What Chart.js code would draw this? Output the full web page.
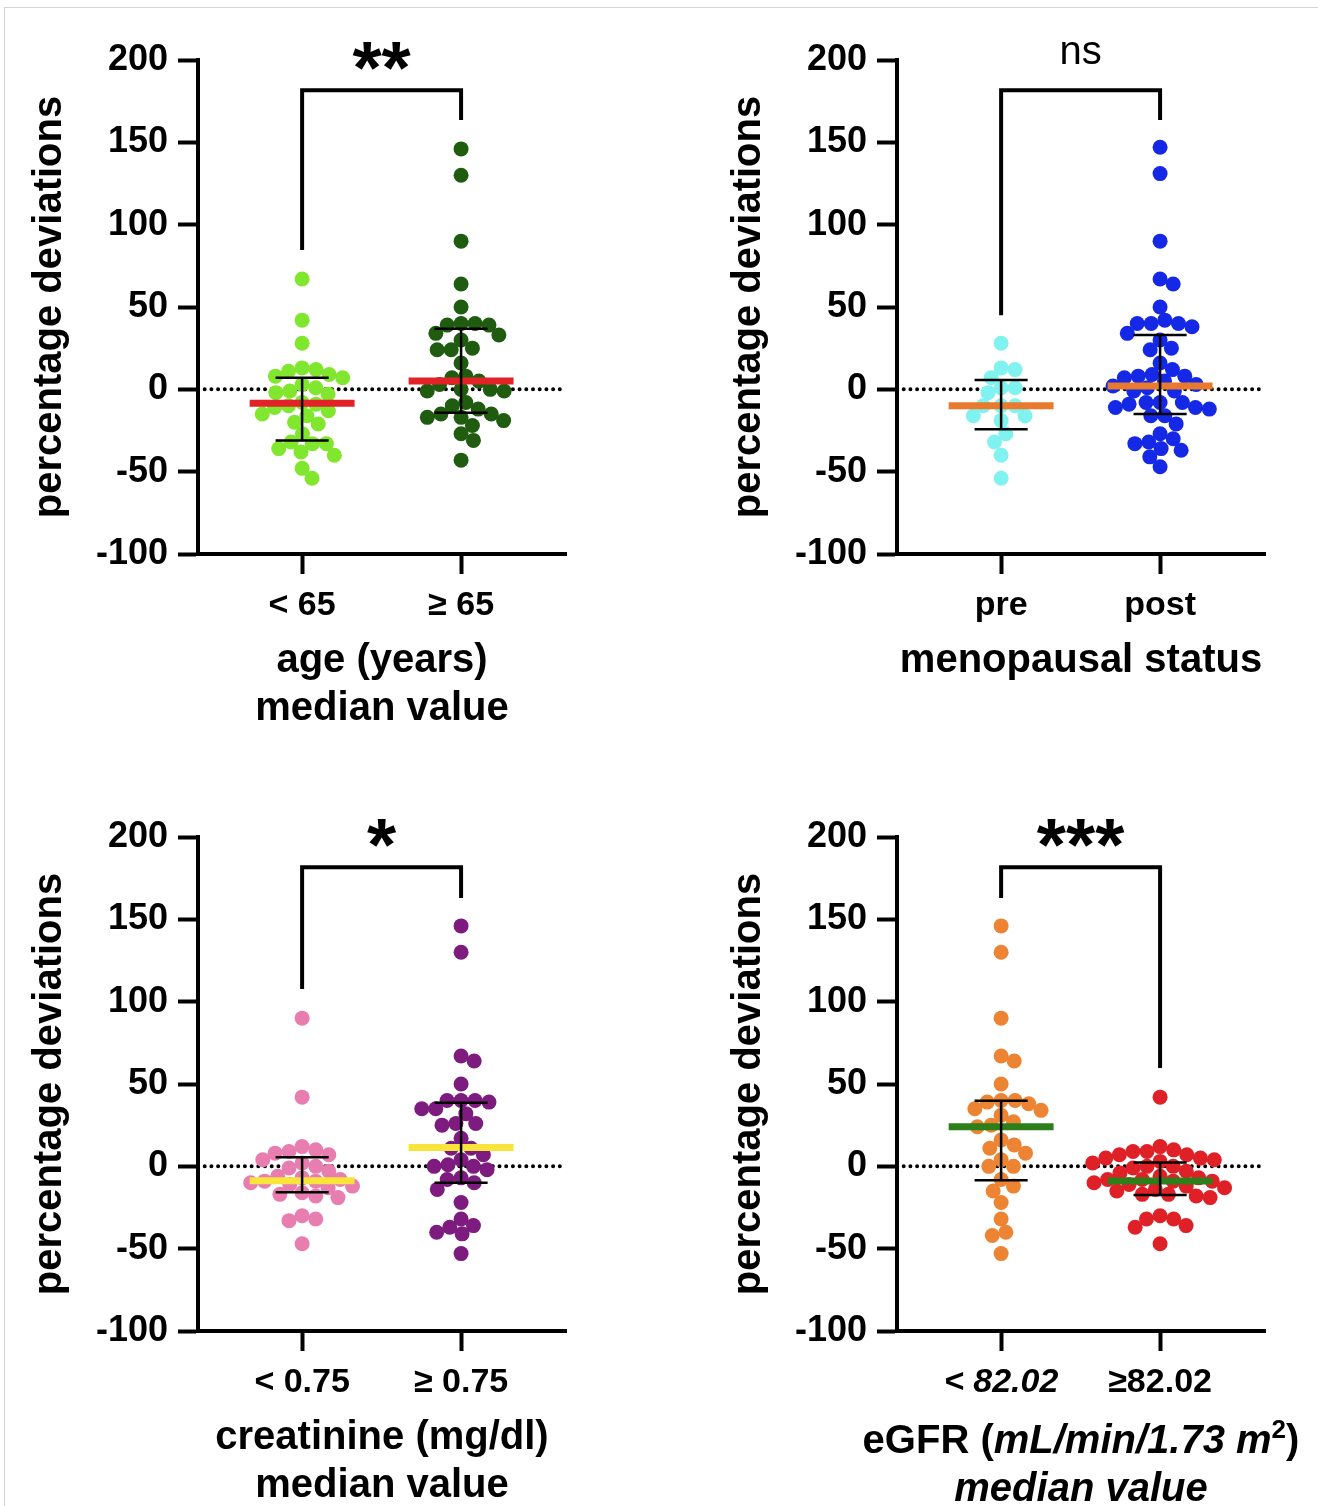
<!DOCTYPE html>
<html>
<head>
<meta charset="utf-8">
<title>percentage deviations</title>
<script src="https://cdn.jsdelivr.net/npm/chart.js@4.4.1/dist/chart.umd.min.js"></script>
<style>
  html, body { margin: 0; padding: 0; background: #fff; }
  body { width: 1318px; height: 1506px; position: relative; overflow: hidden; }
  #frame { position: absolute; left: 4px; top: 7px; right: 0; bottom: 0;
           border-top: 1px solid #d4d4d4; border-left: 1px solid #d4d4d4; }
  canvas { position: absolute; width: 619px; height: 783px; }
</style>
</head>
<body>
<div id="frame"></div>
<canvas id="age" width="619" height="783" style="left:0;top:0"></canvas>
<canvas id="meno" width="619" height="783" style="left:699px;top:0"></canvas>
<canvas id="creat" width="619" height="783" style="left:0;top:777px"></canvas>
<canvas id="egfr" width="619" height="783" style="left:699px;top:777px"></canvas>
<script>
// ---- data (percentage deviations) ----
const ageLabels = ['< 65', '\u2265 65'];
const ageUnder65 = [67, 42, 28, 13, 12, 11, 9, 8, 7, 3, 1, -1, -2, -3, -8, -9, -10, -11, -13, -15, -16, -20, -21, -27, -32, -33, -33, -36, -38, -40, -48, -54];
const ageOver65 = [146, 130, 90, 64, 50, 40, 40, 39, 39, 34, 33, 30, 25, 24, 24, 16, 8, 7, 5, 3, 0, 0, -1, -1, -8, -10, -12, -15, -15, -17, -17, -19, -22, -27, -31, -43];
const ageMedian = [-8.5, 5];
const ageQ1 = [-31, -14.2];
const ageQ3 = [7, 36.8];

const menoLabels = ['pre', 'post'];
const menoPre = [28, 13, 12, 7, 1, 1, -2, -10, -10, -10, -16, -16, -19, -27, -32, -40, -54];
const menoPost = [147, 131, 90, 67, 64, 50, 42, 40, 40, 40, 38, 34, 30, 25, 24, 16, 12, 9, 8, 8, 7, 5, 3, 2, 1, -1, -1, -8, -8, -8, -9, -11, -11, -12, -16, -16, -21, -27, -30, -32, -33, -36, -37, -41, -47];
const menoMedian = [-10, 2];
const menoQ1 = [-24.3, -15];
const menoQ3 = [5.6, 33];

const creatLabels = ['< 0.75', '\u2265 0.75'];
const creatLow = [90, 42, 12, 10, 9, 8, 7, 4, 2, 0, -1, -3, -6, -7, -8, -9, -9, -10, -11, -12, -13, -16, -17, -18, -19, -30, -32, -33, -47];
const creatHigh = [146, 130, 67, 64, 50, 40, 40, 40, 39, 35, 35, 32, 26, 26, 25, 17, 11, 11, 7, 4, 1, 0, 0, -2, -7, -8, -10, -14, -22, -32, -36, -37, -40, -41, -53];
const creatMedian = [-8.7, 11.4];
const creatQ1 = [-15.7, -9.9];
const creatQ3 = [5.5, 38.6];

const egfrLabels = ['< 82.02', '\u226582.02'];
const egfrLow = [146, 130, 90, 67, 64, 50, 40, 40, 39, 38, 35, 34, 31, 27, 25, 24, 16, 13, 11, 8, 4, 0, 0, -8, -12, -15, -22, -32, -40, -42, -53];
const egfrHigh = [42, 12, 10, 9, 9, 7, 7, 5, 5, 4, 3, 2, 0, 0, -1, -3, -4, -6, -7, -8, -8, -9, -9, -10, -11, -12, -13, -14, -15, -17, -17, -18, -19, -30, -32, -32, -36, -37, -47];
const egfrMedian = [24.1, -8.9];
const egfrQ1 = [-8.5, -17.4];
const egfrQ3 = [39.8, 2.4];

// significance brackets: [left leg end, right leg end], label
const bracketTop = 181.7;
const ageBracket = [84.6, 163.5];
const menoBracket = [45, 163.5];
const creatBracket = [107.7, 163];
const egfrBracket = [163, 59.7];
const sigLabels = ['**', 'ns', '*', '***'];

// ---- drawing ----
const FONT = "'Liberation Sans', Arial, Helvetica, sans-serif";
const X_MIN = -0.655, X_MAX = 1.66;
const Y_PX = 494 / 300, X_PX = 159, DOT = 14;
const BAR = 0.33, CAP = 0.167;

// simple beeswarm: spread points sideways so dots don't overlap
function swarm(values, center) {
  const placed = [];
  values.slice().sort((a, b) => b - a).forEach(v => {
    const y = v * Y_PX;
    const cands = [0];
    placed.forEach(p => {
      const dy = Math.abs(p.y - y);
      if (dy < DOT) {
        const dx = Math.sqrt(DOT * DOT - dy * dy);
        cands.push(p.x + dx, p.x - dx);
      }
    });
    cands.sort((a, b) => Math.abs(a) - Math.abs(b));
    const x = cands.find(c => placed.every(p => (p.x - c) ** 2 + (p.y - y) ** 2 >= DOT * DOT - 0.01));
    placed.push({ x, y, v });
  });
  return placed.map(p => ({ x: center + p.x / X_PX, y: p.v }));
}

function makePanel(id, p) {
  const datasets = [];
  datasets.push({
    type: 'line', order: 0, clip: false,
    data: [{ x: 0, y: p.bracket[0] }, { x: 0, y: bracketTop }, { x: 1, y: bracketTop }, { x: 1, y: p.bracket[1] }],
    borderColor: '#000', borderWidth: 4, pointRadius: 0, borderJoinStyle: 'miter'
  });
  [0, 1].forEach(i => {
    datasets.push({
      type: 'line', order: 1, spanGaps: false,
      data: [{ x: i - CAP, y: p.q3[i] }, { x: i + CAP, y: p.q3[i] }, { x: i + CAP, y: null },
             { x: i, y: p.q3[i] }, { x: i, y: p.q1[i] }, { x: i, y: null },
             { x: i - CAP, y: p.q1[i] }, { x: i + CAP, y: p.q1[i] }],
      borderColor: '#000', borderWidth: 2.5, pointRadius: 0
    });
    datasets.push({
      type: 'line', order: 2,
      data: [{ x: i - BAR, y: p.median[i] }, { x: i + BAR, y: p.median[i] }],
      borderColor: p.medColor, borderWidth: 7, pointRadius: 0, borderCapStyle: 'butt'
    });
    datasets.push({
      type: 'scatter', order: 3,
      data: swarm(p.values[i], i),
      backgroundColor: p.colors[i], borderWidth: 0, pointRadius: 7.5, pointHoverRadius: 7.5
    });
  });
  datasets.push({
    type: 'line', order: 4,
    data: [{ x: X_MIN, y: 0 }, { x: X_MAX, y: 0 }],
    borderColor: '#000', borderWidth: 4, borderDash: [0, 6.7], borderCapStyle: 'round', pointRadius: 0
  });

  const extras = {
    id: 'extras',
    afterDraw(chart) {
      const ctx = chart.ctx;
      const xs = chart.scales.x, ys = chart.scales.y;
      const cx = xs.getPixelForValue(0.5);
      const top = ys.getPixelForValue(bracketTop);
      ctx.save();
      ctx.fillStyle = '#000';
      ctx.textAlign = 'center';
      ctx.textBaseline = 'alphabetic';
      if (p.sig === 'ns') {
        ctx.font = `40px ${FONT}`;
        ctx.fillText(p.sig, cx, top - 26);
      } else {
        ctx.font = `bold 75px ${FONT}`;
        ctx.fillText(p.sig, cx, top + 3);
      }
      if (p.richTitle) {
        const mid = (chart.chartArea.left + chart.chartArea.right) / 2;
        const base = chart.chartArea.bottom;
        const segs = [
          ['eGFR (', 'bold 40px', 0], ['mL/min/1.73 m', 'italic bold 40px', 0],
          ['2', 'bold 26px', -15], [')', 'bold 40px', 0]
        ];
        let w = 0;
        segs.forEach(s => { ctx.font = `${s[1]} ${FONT}`; w += ctx.measureText(s[0]).width; });
        let x = mid - w / 2;
        ctx.textAlign = 'left';
        segs.forEach(s => {
          ctx.font = `${s[1]} ${FONT}`;
          ctx.fillText(s[0], x, base + 122 + s[2]);
          x += ctx.measureText(s[0]).width;
        });
        ctx.textAlign = 'center';
        ctx.font = `italic bold 40px ${FONT}`;
        ctx.fillText('median value', mid, base + 170);
      }
      ctx.restore();
    }
  };

  return new Chart(document.getElementById(id), {
    type: 'scatter',
    data: { datasets },
    plugins: [extras],
    options: {
      responsive: false,
      animation: false,
      events: [],
      layout: { padding: { top: 60, left: 0, right: 53, bottom: 0 }, autoPadding: false },
      plugins: { legend: { display: false }, tooltip: { enabled: false } },
      scales: {
        x: {
          type: 'linear', min: X_MIN, max: X_MAX,
          afterBuildTicks: s => { s.ticks = [{ value: 0 }, { value: 1 }]; },
          afterFit: s => { s.height = 229; },
          ticks: {
            autoSkip: false, maxRotation: 0, padding: 11, color: '#000',
            callback: v => p.cats[v],
            font: c => ({ family: FONT, size: 34, weight: 'bold', style: p.tickItalic[c.index] ? 'italic' : 'normal' })
          },
          grid: { drawOnChartArea: false, tickLength: 20, tickWidth: 4, tickColor: '#000' },
          border: { display: true, width: 4, color: '#000' },
          title: {
            display: !!p.xTitle, text: p.xTitle, color: '#000',
            font: { family: FONT, size: 40, weight: 'bold', lineHeight: 1.2 },
            padding: { top: 0, bottom: p.titlePad }
          }
        },
        y: {
          min: -100, max: 200,
          afterFit: s => { s.width = 198; },
          ticks: { stepSize: 50, padding: 10, color: '#000', font: { family: FONT, size: 36, weight: 'bold' } },
          grid: { drawOnChartArea: false, tickLength: 20, tickWidth: 4, tickColor: '#000' },
          border: { display: true, width: 4, color: '#000' },
          title: {
            display: true, text: 'percentage deviations', color: '#000',
            font: { family: FONT, size: 40, weight: 'bold' },
            padding: { top: 26, bottom: 0 }
          }
        }
      }
    }
  });
}

makePanel('age', {
  cats: ageLabels, tickItalic: [false, false], values: [ageUnder65, ageOver65],
  median: ageMedian, q1: ageQ1, q3: ageQ3, bracket: ageBracket, sig: sigLabels[0],
  colors: ['#80E62E', '#1F5C10'], medColor: '#E32227',
  xTitle: ['age (years)', 'median value'], titlePad: 50
});
makePanel('meno', {
  cats: menoLabels, tickItalic: [false, false], values: [menoPre, menoPost],
  median: menoMedian, q1: menoQ1, q3: menoQ3, bracket: menoBracket, sig: sigLabels[1],
  colors: ['#80F3F0', '#1428E6'], medColor: '#E8792E',
  xTitle: 'menopausal status', titlePad: 98
});
makePanel('creat', {
  cats: creatLabels, tickItalic: [false, false], values: [creatLow, creatHigh],
  median: creatMedian, q1: creatQ1, q3: creatQ3, bracket: creatBracket, sig: sigLabels[2],
  colors: ['#E87DB0', '#7D1B7E'], medColor: '#F8E43A',
  xTitle: ['creatinine (mg/dl)', 'median value'], titlePad: 50
});
makePanel('egfr', {
  cats: egfrLabels, tickItalic: [true, false], values: [egfrLow, egfrHigh],
  median: egfrMedian, q1: egfrQ1, q3: egfrQ3, bracket: egfrBracket, sig: sigLabels[3],
  colors: ['#ED8433', '#E02027'], medColor: '#2D7F1A',
  xTitle: '', titlePad: 50, richTitle: true
});
</script>
</body>
</html>
